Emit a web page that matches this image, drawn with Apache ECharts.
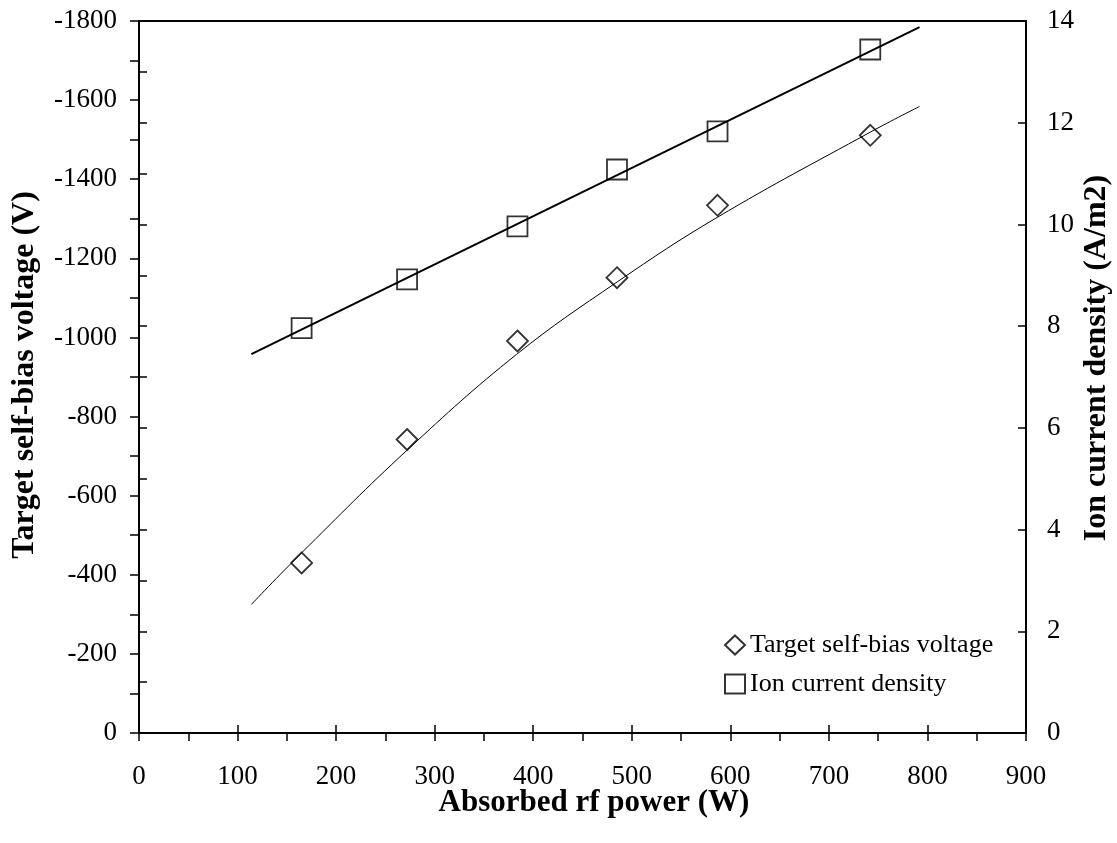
<!DOCTYPE html>
<html>
<head>
<meta charset="utf-8">
<title>Self-bias voltage and ion current density vs absorbed rf power</title>
<script src="https://cdn.jsdelivr.net/npm/echarts@6/dist/echarts.min.js"></script>
<style>
  html, body { margin: 0; padding: 0; background: #fff; }
  #chart { width: 1117px; height: 843px; }
</style>
</head>
<body>
<div id="chart"></div>
<script>
// Measured points
const powerW = [165, 272, 384, 485, 587, 742];
const biasV = [-430, -742, -991, -1151, -1334, -1511];
const ionJ = [7.96, 8.92, 9.96, 11.08, 11.83, 13.44];

// Trend lines (points along the fitted curves)
const biasFitW = [114, 164, 272, 383, 485, 587, 742, 792];
const biasFitV = [-325, -453, -715, -957, -1140, -1304, -1519, -1584];
const ionFitW = [114, 792];
const ionFitJ = [7.45, 13.88];

const seriesNames = ['Target self-bias voltage', 'Ion current density'];
const xTitle = 'Absorbed rf power (W)';
const yLeftTitle = 'Target self-bias voltage (V)';
const yRightTitle = 'Ion current density (A/m2)';

const FONT = "'Liberation Serif', 'Times New Roman', serif";
const pair = (xs, ys) => xs.map((x, i) => [x, ys[i]]);
const plain = v => String(v);

const chart = echarts.init(document.getElementById('chart'), null, { renderer: 'canvas' });

const hidden = { show: false };
const tickLabel = { color: '#000', fontFamily: FONT, fontSize: 27, formatter: plain };

chart.setOption({
  animation: false,
  backgroundColor: '#fff',
  grid: {
    left: 139, right: 91, top: 21, bottom: 110,
    show: true, borderColor: '#000', borderWidth: 2, backgroundColor: 'transparent'
  },
  legend: {
    data: seriesNames,
    orient: 'vertical',
    left: 724, top: 632,
    padding: 0,
    itemWidth: 20, itemHeight: 19, itemGap: 13,
    textStyle: { color: '#000', fontFamily: FONT, fontSize: 26 }
  },
  xAxis: [
    {
      type: 'value', min: 0, max: 900, interval: 100, position: 'bottom',
      axisLine: { show: true, lineStyle: { color: '#000', width: 2 } },
      axisTick: { show: true, inside: false, length: 8, lineStyle: { color: '#000', width: 1.5 } },
      minorTick: { show: true, splitNumber: 2, length: 8, lineStyle: { color: '#000', width: 1.5 } },
      axisLabel: Object.assign({ margin: 30 }, tickLabel),
      splitLine: hidden
    },
    {
      type: 'value', min: 0, max: 900, interval: 100, position: 'bottom',
      axisLine: hidden,
      axisTick: { show: true, inside: true, length: 8, lineStyle: { color: '#000', width: 1.5 } },
      axisLabel: hidden, splitLine: hidden
    }
  ],
  yAxis: [
    {
      type: 'value', min: -1800, max: 0, interval: 200, inverse: true, position: 'left',
      axisLine: { show: true, lineStyle: { color: '#000', width: 2 } },
      axisTick: { show: true, inside: false, length: 9, lineStyle: { color: '#000', width: 1.5 } },
      minorTick: { show: true, splitNumber: 2, length: 9, lineStyle: { color: '#000', width: 1.5 } },
      axisLabel: Object.assign({ margin: 22 }, tickLabel),
      splitLine: hidden
    },
    {
      type: 'value', min: 0, max: 14, interval: 2, position: 'right',
      axisLine: { show: true, lineStyle: { color: '#000', width: 2 } },
      axisTick: { show: true, inside: false, length: 8, lineStyle: { color: '#000', width: 1.5 } },
      minorTick: { show: true, splitNumber: 2, length: 8, lineStyle: { color: '#000', width: 1.5 } },
      axisLabel: Object.assign({ margin: 21 }, tickLabel),
      splitLine: hidden
    },
    {
      type: 'value', min: 0, max: 14, interval: 2, position: 'right',
      axisLine: hidden,
      axisTick: { show: true, inside: true, length: 8, lineStyle: { color: '#000', width: 1.5 } },
      axisLabel: hidden, splitLine: hidden
    }
  ],
  series: [
    {
      name: 'bias fit', type: 'line', xAxisIndex: 0, yAxisIndex: 0,
      data: pair(biasFitW, biasFitV), smooth: 0.4, showSymbol: false, symbol: 'none',
      lineStyle: { color: '#000', width: 1 }, silent: true, z: 2
    },
    {
      name: 'ion fit', type: 'line', xAxisIndex: 0, yAxisIndex: 1,
      data: pair(ionFitW, ionFitJ), showSymbol: false, symbol: 'none',
      lineStyle: { color: '#000', width: 2 }, silent: true, z: 2
    },
    {
      name: seriesNames[0], type: 'scatter', xAxisIndex: 0, yAxisIndex: 0,
      data: pair(powerW, biasV), symbol: 'diamond', symbolSize: [21, 21],
      itemStyle: { color: 'transparent', borderColor: '#000', borderWidth: 1.8 }, z: 3
    },
    {
      name: seriesNames[1], type: 'scatter', xAxisIndex: 0, yAxisIndex: 1,
      data: pair(powerW, ionJ), symbol: 'rect', symbolSize: [20, 20],
      itemStyle: { color: 'transparent', borderColor: '#000', borderWidth: 1.8 }, z: 3
    }
  ],
  graphic: [
    {
      type: 'text', x: 594, y: 803,
      style: { text: xTitle, font: "bold 31px " + FONT, fill: '#000', textAlign: 'center', textVerticalAlign: 'middle' }
    },
    {
      type: 'text', x: 25, y: 375, rotation: Math.PI / 2,
      style: { text: yLeftTitle, font: "bold 32px " + FONT, fill: '#000', textAlign: 'center', textVerticalAlign: 'middle' }
    },
    {
      type: 'text', x: 1097, y: 358, rotation: Math.PI / 2,
      style: { text: yRightTitle, font: "bold 32px " + FONT, fill: '#000', textAlign: 'center', textVerticalAlign: 'middle' }
    }
  ]
});
</script>
</body>
</html>
